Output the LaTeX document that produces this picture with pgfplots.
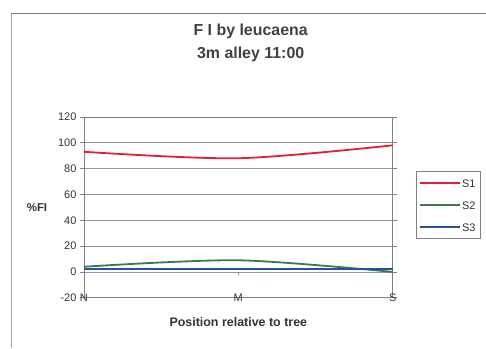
\documentclass[border=0pt]{standalone}
\usepackage{pgfplots}
\pgfplotsset{compat=1.18}
\usepackage{fontspec}
\setmainfont{Liberation Sans}

\definecolor{sone}{RGB}{232,28,52}
\definecolor{stwo}{RGB}{58,120,78}
\definecolor{sthree}{RGB}{36,84,160}
\definecolor{frameg}{RGB}{128,128,128}
\definecolor{gridg}{RGB}{150,150,150}

% Position: 0 = N, 1 = M, 2 = S
\pgfplotstableread{
x  s1  s2  s3
0  93  4   2
1  88  9   2
2  98  0   2
}\fidata

\begin{document}
\begin{tikzpicture}
% page extent and chart-area frame
\path (0,0) rectangle (486bp,348bp);
\draw[frameg!70, line width=0.8bp] (11bp,0) -- (11bp,335bp);
\draw[frameg, line width=0.8bp] (11bp,335bp) -- (486bp,335bp);

\begin{axis}[
  at={(84bp,50bp)}, anchor=south west,
  scale only axis, width=309bp, height=181bp,
  xmin=0, xmax=2, ymin=-20, ymax=120,
  xtick={0,1,2}, xticklabels={N,M,S},
  ytick={-20,0,...,120},
  ymajorgrids, major grid style={gridg, line width=0.6bp},
  axis line style={frameg, line width=0.8bp},
  tick align=outside,
  x tick style={draw=none},
  y tick style={frameg, line width=0.6bp},
  major tick length=4bp,
  tick label style={font=\fontsize{11}{13}\selectfont, text=black!80},
  /pgf/number format/assume math mode=true,
  xticklabel style={anchor=center, yshift=4bp},
  title={F I by leucaena\\3m alley 11:00},
  title style={font=\fontsize{16}{23}\selectfont\bfseries, text=black!75,
    align=center, at={(rel axis cs:0.540,1.378)}, anchor=center},
  xlabel={Position relative to tree},
  xlabel style={font=\fontsize{12.5}{15}\selectfont\bfseries, text=black!80,
    at={(rel axis cs:0.5,-0.135)}, anchor=center},
  ylabel={\%FI},
  ylabel style={font=\fontsize{11.5}{14}\selectfont\bfseries, text=black!80,
    rotate=-90, at={(rel axis cs:-0.152,0.5)}, anchor=center},
  legend style={at={(rel axis cs:1.074,0.699)}, anchor=north west,
    draw=frameg, line width=0.6bp, inner xsep=3bp, inner ysep=6bp,
    font=\fontsize{11}{13}\selectfont, text=black!80,
    row sep=11bp,
    nodes={inner sep=1.5bp, text height=8bp, text depth=0pt},
    cells={anchor=west}},
  legend image code/.code={\draw[#1] (0bp,0bp) -- (40bp,0bp);},
  every axis plot/.append style={line width=1.8bp, smooth, no markers},
  clip=false,
]
\addplot[sone]   table[x=x, y=s1] {\fidata};
\addplot[stwo]   table[x=x, y=s2] {\fidata};
\addplot[sthree] table[x=x, y=s3] {\fidata};
\legend{S1,S2,S3}
% small tick at the middle position on the zero line
\draw[frameg, line width=0.6bp] (axis cs:1,0) -- ([yshift=-3bp]axis cs:1,0);
\end{axis}
\end{tikzpicture}
\end{document}
